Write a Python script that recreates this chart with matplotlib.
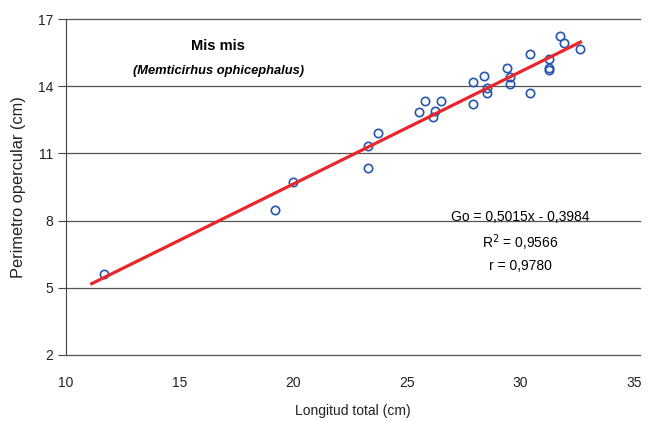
import matplotlib
matplotlib.use("Agg")
import numpy as np
import matplotlib.pyplot as plt

# Longitud total (cm) y perimetro opercular (cm)
longitud = [11.67, 19.20, 19.99, 23.29, 23.29, 23.73, 25.52, 25.80, 26.14, 26.24,
            26.52, 27.90, 27.90, 28.41, 28.52, 28.52, 29.41, 29.53, 29.53, 30.41,
            30.41, 31.26, 31.26, 31.26, 31.76, 31.92, 32.64]
perimetro = [5.62, 8.47, 9.72, 10.35, 11.33, 11.91, 12.85, 13.35, 12.61, 12.88,
             13.35, 14.20, 13.21, 14.44, 13.90, 13.71, 14.80, 14.39, 14.12, 15.45,
             13.71, 15.20, 14.80, 14.71, 16.26, 15.95, 15.66]

pendiente = 0.5015
intercepto = -0.3984
r2 = 0.9566
r = 0.9780
rango_ajuste = [11.07, 32.70]

yticks = [2, 5, 8, 11, 14, 17]
xticks = [10, 15, 20, 25, 30, 35]

plt.rcParams["font.family"] = ["Liberation Sans", "DejaVu Sans"]

fig = plt.figure(figsize=(6.56, 4.21), dpi=100)
ax = fig.add_axes([66 / 656, 1 - 355 / 421, (640 - 66) / 656, (355 - 19) / 421])

ax.set_xlim(10, 35.26)
ax.set_ylim(2, 17)
ax.set_xticks(xticks)
ax.set_yticks(yticks)
ax.tick_params(axis="x", length=0, pad=15, labelsize=10, colors="#222222")
ax.tick_params(axis="y", length=6, width=0.8, direction="out", pad=3,
               labelsize=10, colors="#222222", color="#444444")

for s in ["top", "right", "bottom"]:
    ax.spines[s].set_visible(False)
ax.spines["left"].set_color("#444444")
ax.spines["left"].set_linewidth(0.8)

# lineas horizontales de la cuadricula
for yt in yticks:
    ax.axhline(yt, color="#555555", lw=0.9, zorder=1, clip_on=False)

ax.plot(longitud, perimetro, "o", ms=6, mfc="none", mec="#2456b0", mew=1.2, zorder=3)

xs = np.array(rango_ajuste)
ax.plot(xs, pendiente * xs + intercepto, color="#e8262b", lw=2.3, zorder=4,
        solid_capstyle="butt")

ax.set_xlabel("Longitud total (cm)", fontsize=10, labelpad=10, color="#222222")
ax.set_ylabel("Perimetro opercular (cm)", fontsize=11.8, labelpad=9, color="#222222")

ax.text(16.7, 15.8, "Mis mis", fontsize=10.5, fontweight="bold", ha="center", va="center")
ax.text(16.7, 14.68, "(Memticirhus ophicephalus)", fontsize=9.3, fontweight="bold",
        fontstyle="italic", ha="center", va="center")

ax.text(30.0, 8.17, f"Go = {pendiente:.4f}x - {abs(intercepto):.4f}".replace(".", ","),
        fontsize=10, ha="center", va="center")
ax.text(30.0, 7.03, f"R$^2$ = {r2:.4f}".replace(".", ","),
        fontsize=10, ha="center", va="center")
ax.text(30.0, 5.98, f"r = {r:.4f}".replace(".", ","),
        fontsize=10, ha="center", va="center")

fig.savefig("out.png", dpi=100)
